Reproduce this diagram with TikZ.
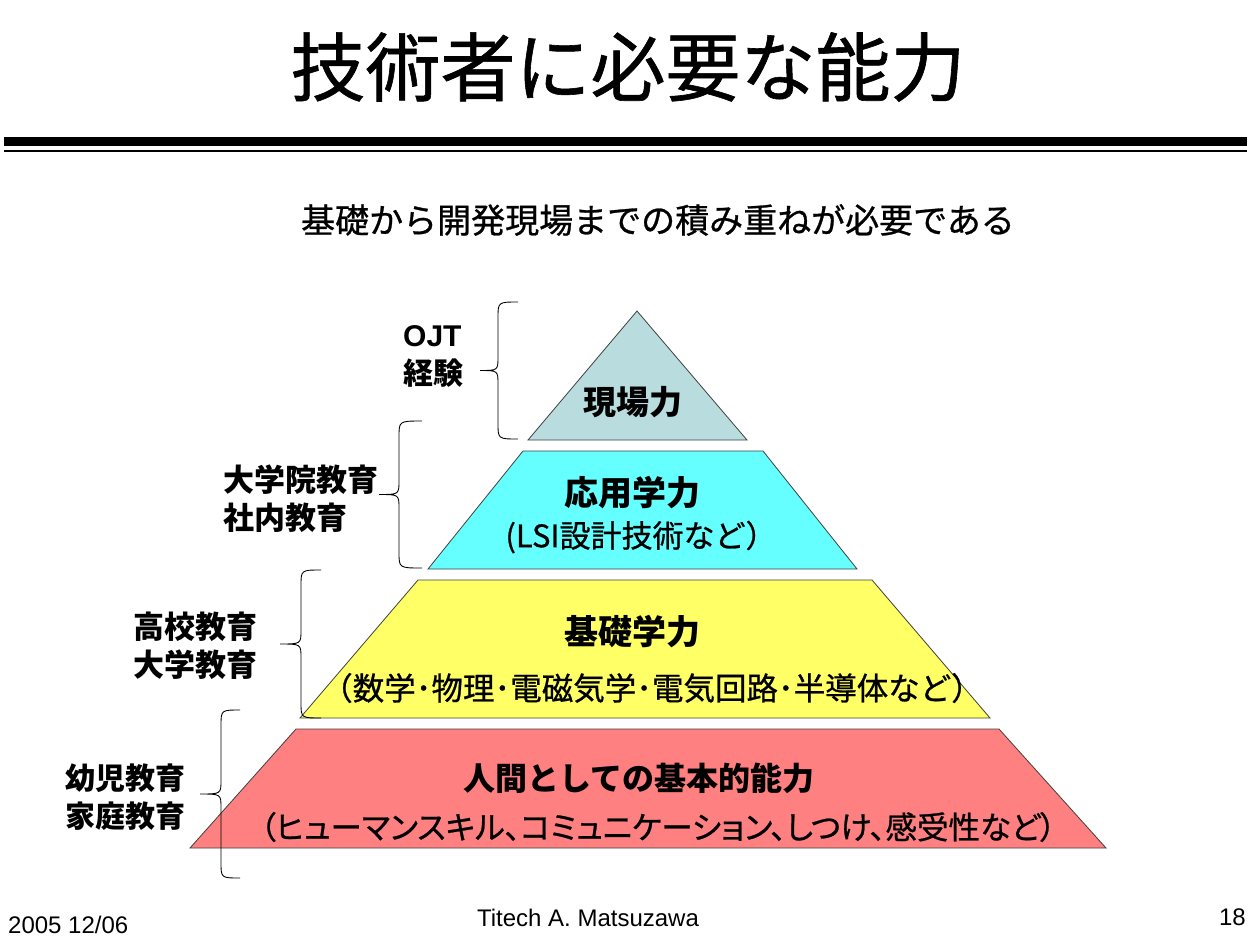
\documentclass[tikz,border=0pt]{standalone}
\usepackage{fontspec}
\setmainfont{Noto Sans CJK JP}
\newfontfamily\lat{Liberation Sans}
\newfontfamily\jpm[FakeBold=0.8]{Noto Sans CJK JP}
\newfontfamily\jpp[FakeBold=0.8,RawFeature=+palt]{Noto Sans CJK JP}
\definecolor{ctop}{RGB}{185,220,222}
\definecolor{cmid}{RGB}{102,255,255}
\definecolor{cbase}{RGB}{255,255,102}
\definecolor{cbot}{RGB}{255,128,128}
\newcommand\mybrace[5]{%
  \draw[bracestyle] (#1,#4) .. controls (#2,#4) .. (#2,#4+16)
    -- (#2,{(#4+#5)/2-14}) .. controls (#2,{(#4+#5)/2}) .. (#3,{(#4+#5)/2})
    .. controls (#2,{(#4+#5)/2}) .. (#2,{(#4+#5)/2+14})
    -- (#2,#5-16) .. controls (#2,#5) .. (#1,#5);}
\begin{document}
\begin{tikzpicture}[x=1pt,y=-1pt,
  tier/.style={draw=black!75,line width=0.8pt,line join=miter},
  bracestyle/.style={draw=black,line width=0.9pt},
  head/.style={inner sep=0pt,font=\bfseries\fontsize{34}{40}\selectfont},
  desc/.style={inner sep=0pt,font=\jpm\fontsize{31}{34}\selectfont},
  side/.style={inner sep=0pt,anchor=west,align=left,font=\bfseries\fontsize{30}{38}\selectfont},
  foot/.style={inner sep=0pt,font=\lat\fontsize{24}{28}\selectfont}]
\useasboundingbox (0,0) rectangle (1255,940);
\fill[white] (0,0) rectangle (1255,940);
% title and rules
\node[inner sep=0pt,font=\jpm\fontsize{75}{82}\selectfont] (title) at (628,67) {技術者に必要な能力};
\fill[black] (4,137) rectangle (1247,146);
\draw[line width=1.5pt] (4,151) -- (1247,151);
\node[inner sep=0pt,font=\jpm\fontsize{34}{40}\selectfont] (sub) at (658,220) {基礎から開発現場までの積み重ねが必要である};
% pyramid
\draw[tier,fill=ctop] (637,311) -- (747,440) -- (528,440) -- cycle;
\draw[tier,fill=cmid] (523,451) -- (763,451) -- (857,569) -- (428,569) -- cycle;
\draw[tier,fill=cbase] (418,580) -- (872,580) -- (990,718) -- (300,718) -- cycle;
\draw[tier,fill=cbot] (296,729) -- (999,729) -- (1106,848) -- (190,848) -- cycle;
% pyramid texts
\node[head,font=\bfseries\fontsize{33}{40}\selectfont] (t1) at (633,402) {現場力};
\node[head] (t2a) at (632,493) {応用学力};
\node[desc] (t2b) at (641,537) {(LSI設計技術など）};
\node[head] (t3a) at (632,632) {基礎学力};
\node[desc,font=\jpm\fontsize{31.5}{34}\selectfont] (t3b) at (652,688) {（数学･物理･電磁気学･電気回路･半導体など）};
\node[head,font=\bfseries\fontsize{32}{40}\selectfont] (t4a) at (639,778) {人間としての基本的能力};
\node[desc,font=\jpp\fontsize{31.5}{34}\selectfont] (t4b) at (658,827) {（ヒューマンスキル、コミュニケーション、しつけ、感受性など）};
% braces
\mybrace{518}{498}{480}{302}{439}
\mybrace{422}{399}{379}{421}{568}
\mybrace{321}{301}{280}{570}{718}
\mybrace{240}{221}{200}{710}{878}
% side labels
\node[side] (s1) at (403,356) {{\lat\bfseries OJT}\\経験};
\node[side,font=\bfseries\fontsize{31}{38}\selectfont] (s2) at (223,499) {大学院教育\\社内教育};
\node[side,font=\bfseries\fontsize{31}{38}\selectfont] (s3) at (133,646) {高校教育\\大学教育};
\node[side] (s4) at (65,797) {幼児教育\\家庭教育};
% footer
\node[foot,anchor=west] (date) at (8,925) {2005 12/06};
\node[foot] (author) at (588,918) {Titech A. Matsuzawa};
\node[foot,anchor=east] (page) at (1246,917) {18};
\end{tikzpicture}
\end{document}
